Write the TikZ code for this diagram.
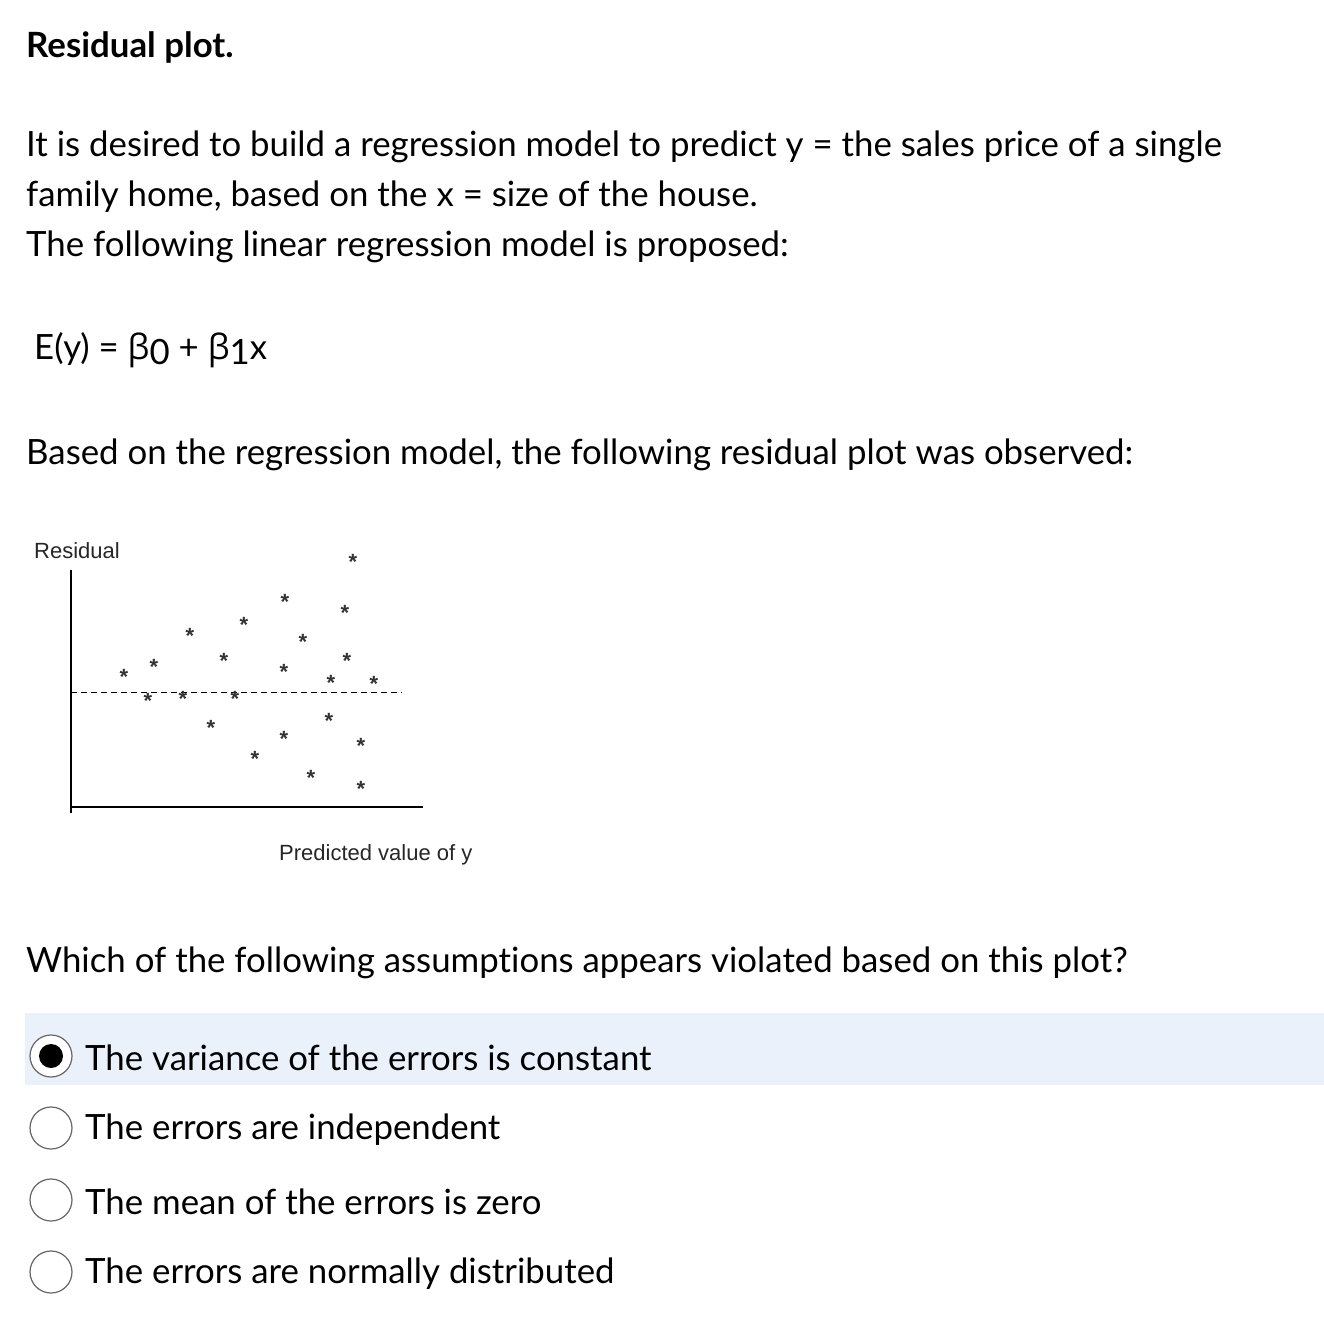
\documentclass[tikz,border=0pt]{standalone}
\usepackage{fontspec}
\setmainfont{Lato}[Ligatures=NoCommon]
\newfontfamily\arial{Liberation Sans}
\newfontfamily\greek{Open Sans}
\begin{document}
\begin{tikzpicture}[x=1pt,y=-1pt,
  txt/.style={anchor=west,inner sep=0,font=\fontsize{34.8}{40}\selectfont},
  star/.style={inner sep=0,text=black!80,font=\arial\bfseries\fontsize{22}{22}\selectfont},
  small/.style={anchor=west,inner sep=0,text=black!85,font=\arial\fontsize{22}{24}\selectfont},
  radio/.style={circle,draw=black!60,line width=1.2pt,minimum size=42pt,inner sep=0}]
\useasboundingbox (0,0) rectangle (1324,1316);
\fill[fill={rgb,255:red,234;green,241;blue,251}] (25,1013) rectangle (1324,1085);
\node[txt,font=\bfseries\fontsize{34.8}{40}\selectfont] (title) at (26,47) {Residual plot.};
\node[txt] (l1) at (26,147) {It is desired to build a regression model to predict y = the sales price of a single};
\node[txt] (l2) at (26,197) {family home, based on the x = size of the house.};
\node[txt] (l3) at (26,247) {The following linear regression model is proposed:};
\node[txt] (eq) at (34,350) {E(y) = {\greek β}\raisebox{-5pt}{0} + {\greek β}\raisebox{-5pt}{1}x};
\node[txt] (l4) at (26,455) {Based on the regression model, the following residual plot was observed:};
\node[small] (res) at (34,551) {Residual};
\node[small] (pred) at (279,855) {Predicted value of y};
\draw[line width=1.4pt] (71,570) -- (71,813);
\draw[line width=1.4pt] (71,807) -- (423,807);
\draw[dashed,line width=1pt,dash pattern=on 6pt off 4pt] (71,692) -- (402,692);
\foreach \p [count=\i] in {(124,677),(154,667),(148,701),(190,636),(183,699),(224,661),(211,728),(244,625),(235,699),(285,602),(284,672),(255,759),(284,739),(303,642),(311,778),(353,562),(345,613),(347,661),(331,683),(374,684),(329,721),(361,746),(361,789)}
  \node[star] (s\i) at \p {*};
\node[txt] (q) at (26,963) {Which of the following assumptions appears violated based on this plot?};
\node[radio,fill=white] (r1) at (51,1056) {};
\fill (r1.center) circle (12pt);
\node[radio] (r2) at (51,1128) {};
\node[radio] (r3) at (51,1200) {};
\node[radio] (r4) at (51,1272) {};
\node[txt] (a1) at (85,1058) {The variance of the errors is constant};
\node[txt] (a2) at (85,1130) {The errors are independent};
\node[txt] (a3) at (85,1202) {The mean of the errors is zero};
\node[txt] (a4) at (85,1274) {The errors are normally distributed};
\end{tikzpicture}
\end{document}
